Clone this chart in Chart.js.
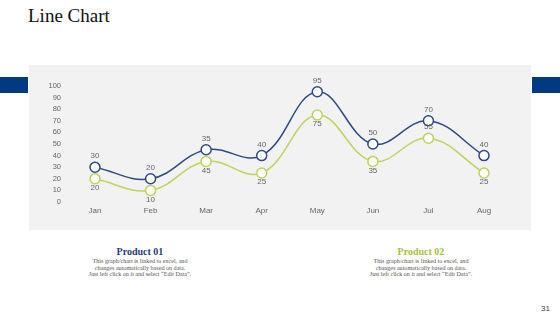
<!DOCTYPE html>
<html>
<head>
<meta charset="utf-8">
<script src="https://cdn.jsdelivr.net/npm/chart.js@4"></script>
<style>
  body { margin: 0; width: 560px; height: 315px; background: #fff; position: relative; overflow: hidden; }
  .titulo { position: absolute; left: 28px; top: 5px; font: 19px "Liberation Serif", serif; color: #111; }
  .barra { position: absolute; top: 77px; height: 16px; background: #003a80; }
  .panel { position: absolute; left: 29px; top: 65px; width: 502px; height: 165px; background: #f2f2f2; }
  .producto { position: absolute; top: 246px; width: 160px; text-align: center; font-family: "Liberation Serif", serif; }
  .producto h3 { margin: 0; font-size: 10px; font-weight: bold; }
  .producto p { margin: 1px 0 0; font-size: 6.1px; line-height: 6.7px; color: #555; }
  .pagina { position: absolute; left: 541px; top: 304px; font: 8px "Liberation Sans", sans-serif; color: #444; }
</style>
</head>
<body>
<div class="titulo">Line Chart</div>
<div class="barra" style="left:0;width:28px"></div>
<div class="barra" style="left:532px;width:28px"></div>
<div class="panel"><canvas id="myChart" width="502" height="165"></canvas></div>
<div class="producto" style="left:60px">
  <h3 style="color:#1f3c78">Product 01</h3>
  <p>This graph/chart is linked to excel, and<br>changes automatically based on data.<br>Just left click on it and select “Edit Data”.</p>
</div>
<div class="producto" style="left:341px">
  <h3 style="color:#a9c23c">Product 02</h3>
  <p>This graph/chart is linked to excel, and<br>changes automatically based on data.<br>Just left click on it and select “Edit Data”.</p>
</div>
<div class="pagina">31</div>
<script>
const meses = ['Jan', 'Feb', 'Mar', 'Apr', 'May', 'Jun', 'Jul', 'Aug'];
const producto1 = [30, 20, 45, 40, 95, 50, 70, 40];
const producto2 = [20, 10, 35, 25, 75, 35, 55, 25];
// etiquetas tal como aparecen en la diapositiva
const etiquetas1 = ['30', '20', '35', '40', '95', '50', '70', '40'];
const etiquetas2 = ['20', '10', '45', '25', '75', '35', '55', '25'];
const ticksY = [0, 10, 20, 30, 40, 50, 60, 70, 80, 90, 100];

const azul = '#2d4a85';
const verde = '#bfd35a';

const etiquetasPlugin = {
  id: 'etiquetas',
  afterDatasetsDraw(chart) {
    const ctx = chart.ctx;
    ctx.save();
    ctx.font = '8px "Liberation Sans", Arial, sans-serif';
    ctx.fillStyle = '#666';
    ctx.textAlign = 'center';
    ctx.textBaseline = 'middle';
    const textos = [etiquetas1, etiquetas2];
    chart.data.datasets.forEach((ds, i) => {
      chart.getDatasetMeta(i).data.forEach((p, j) => {
        let dy = i === 0 ? -11 : 9;
        if (i === 1 && j === 6) dy = -11;
        ctx.fillText(textos[i][j], p.x, p.y + dy);
      });
    });
    ctx.restore();
  }
};

const ctx = document.getElementById('myChart');
new Chart(ctx, {
  type: 'line',
  data: {
    labels: meses,
    datasets: [{
      label: 'Product 01',
      data: producto1,
      borderColor: azul,
      borderWidth: 1.5,
      pointBackgroundColor: '#fff',
      pointBorderColor: azul,
      pointBorderWidth: 1.5,
      pointRadius: 5,
      tension: 0.4
    }, {
      label: 'Product 02',
      data: producto2,
      borderColor: verde,
      borderWidth: 1.5,
      pointBackgroundColor: '#fff',
      pointBorderColor: verde,
      pointBorderWidth: 1.5,
      pointRadius: 5,
      tension: 0.4
    }]
  },
  options: {
    responsive: false,
    animation: false,
    layout: { padding: { top: 21, right: 47, left: 0, bottom: 0 } },
    plugins: { legend: { display: false }, tooltip: { enabled: false } },
    scales: {
      x: {
        offset: false,
        grid: { display: false, drawTicks: false },
        border: { display: false },
        ticks: { color: '#666', font: { family: 'Liberation Sans', size: 8 }, padding: 4 },
        afterFit: s => { s.height = 28; s.paddingLeft = 0; s.paddingRight = 0; }
      },
      y: {
        min: 0,
        max: 100,
        grid: { display: false, drawTicks: false },
        border: { display: false },
        afterBuildTicks: s => { s.ticks = ticksY.map(v => ({ value: v })); },
        ticks: { color: '#666', font: { family: 'Liberation Sans', size: 7.5 }, padding: 34, autoSkip: false },
        afterFit: s => { s.width = 66; s.paddingTop = 0; s.paddingBottom = 0; }
      }
    }
  },
  plugins: [etiquetasPlugin]
});
</script>
</body>
</html>
